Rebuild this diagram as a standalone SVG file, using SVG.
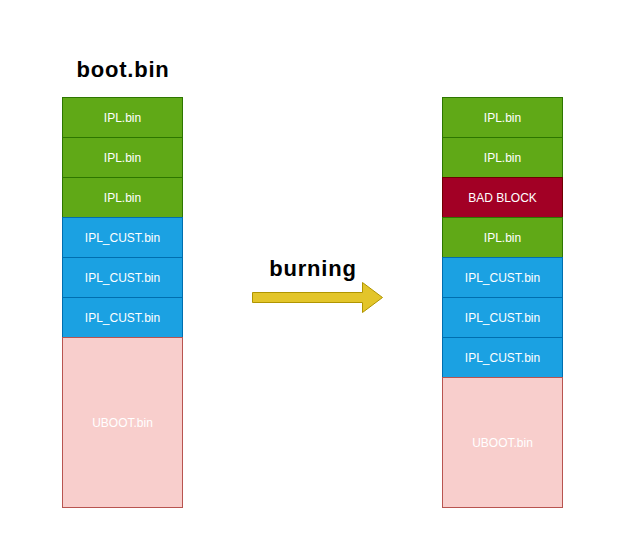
<svg xmlns="http://www.w3.org/2000/svg" width="624" height="546" viewBox="0 0 624 546">
<style>
text{font-family:"Liberation Sans",Arial,sans-serif;}
.l{font-size:12px;fill:#ffffff;text-anchor:middle;}
.t{font-size:22px;font-weight:bold;fill:#000;text-anchor:middle;letter-spacing:0.8px;}
.g{fill:#60a917;stroke:#2d7600;}
.b{fill:#1ba1e2;stroke:#006eaf;}
.r{fill:#a20025;stroke:#6f0000;}
.p{fill:#f8cecc;stroke:#b85450;}
</style>
<rect width="624" height="546" fill="#ffffff"/>
<text class="t" x="123" y="76.5">boot.bin</text>
<g id="left">
<g id="l1"><rect class="g" x="62.5" y="97.5" width="120" height="40"/><text class="l" x="122.5" y="121.8">IPL.bin</text></g>
<g id="l2"><rect class="g" x="62.5" y="137.5" width="120" height="40"/><text class="l" x="122.5" y="161.8">IPL.bin</text></g>
<g id="l3"><rect class="g" x="62.5" y="177.5" width="120" height="40"/><text class="l" x="122.5" y="201.8">IPL.bin</text></g>
<g id="l4"><rect class="b" x="62.5" y="217.5" width="120" height="40"/><text class="l" x="122.5" y="241.8">IPL_CUST.bin</text></g>
<g id="l5"><rect class="b" x="62.5" y="257.5" width="120" height="40"/><text class="l" x="122.5" y="281.8">IPL_CUST.bin</text></g>
<g id="l6"><rect class="b" x="62.5" y="297.5" width="120" height="40"/><text class="l" x="122.5" y="321.8">IPL_CUST.bin</text></g>
<g id="l7"><rect class="p" x="62.5" y="337.5" width="120" height="170"/><text class="l" x="122.5" y="426.8">UBOOT.bin</text></g>
</g>
<g id="right">
<g id="r1"><rect class="g" x="442.5" y="97.5" width="120" height="40"/><text class="l" x="502.5" y="121.8">IPL.bin</text></g>
<g id="r2"><rect class="g" x="442.5" y="137.5" width="120" height="40"/><text class="l" x="502.5" y="161.8">IPL.bin</text></g>
<g id="r3"><rect class="r" x="442.5" y="177.5" width="120" height="40"/><text class="l" x="502.5" y="201.8">BAD BLOCK</text></g>
<g id="r4"><rect class="g" x="442.5" y="217.5" width="120" height="40"/><text class="l" x="502.5" y="241.8">IPL.bin</text></g>
<g id="r5"><rect class="b" x="442.5" y="257.5" width="120" height="40"/><text class="l" x="502.5" y="281.8">IPL_CUST.bin</text></g>
<g id="r6"><rect class="b" x="442.5" y="297.5" width="120" height="40"/><text class="l" x="502.5" y="321.8">IPL_CUST.bin</text></g>
<g id="r7"><rect class="b" x="442.5" y="337.5" width="120" height="40"/><text class="l" x="502.5" y="361.8">IPL_CUST.bin</text></g>
<g id="r8"><rect class="p" x="442.5" y="377.5" width="120" height="130"/><text class="l" x="502.5" y="446.8">UBOOT.bin</text></g>
</g>
<g id="connectors">
<text class="t" x="313" y="276">burning</text>
<path d="M252.5,292.5 L362.5,292.5 L362.5,282.5 L382.5,297.5 L362.5,312.5 L362.5,302.5 L252.5,302.5 Z" fill="#e3c52a" stroke="#b09500"/>
</g>
</svg>
